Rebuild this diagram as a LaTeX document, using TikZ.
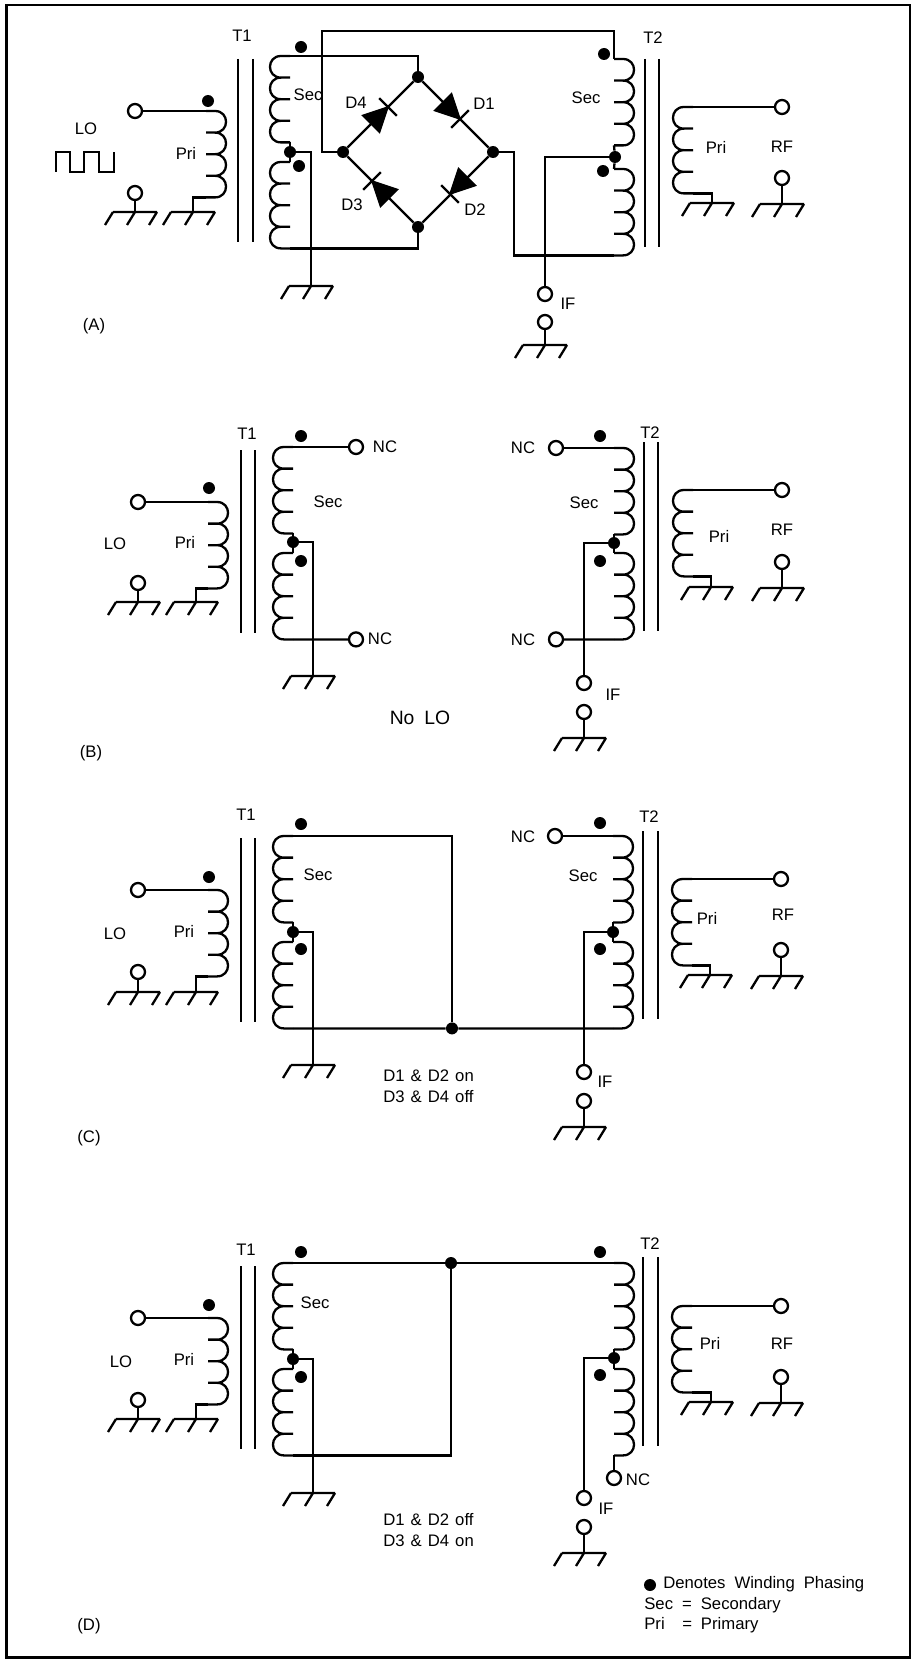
\documentclass[tikz,border=0pt]{standalone}
\usepackage{fontspec}
\setmainfont[WordSpace=1.3]{Liberation Sans}
\usetikzlibrary{positioning,calc}

\tikzset{
	wire/.style={line width=0.046cm},
	term/.style={circle,draw=black,fill=white,line width=0.046cm,inner sep=0,minimum size=0.28cm},
	jdot/.style={circle,fill=black,inner sep=0,minimum size=0.24cm},
	lbl/.style={inner sep=0,font=\fontsize{9.5}{11}\selectfont}
}

% one winding of four turns, xscale=1 bulges right, xscale=-1 bulges left
\newcommand{\winding}[4]{
	\begin{scope}[shift={(#2,#3)},xscale=#4]
		\draw[wire] (0,0) coordinate (#1-a)
			foreach \t in {1,2,3,4} {-- ++(9,0) .. controls +(14.7,0) and +(14.7,0) .. ++(0,21.6) -- ++(-9,0)}
			coordinate (#1-b);
	\end{scope}
}
\newcommand{\grnd}[3]{
	\coordinate (#1) at (#2,#3);
	\begin{scope}[shift={(#2,#3)}]
		\draw[wire] (-22,0) -- (22,0) (-22,0) -- (-30,13) (0,0) -- (-8,13) (22,0) -- (14,13);
	\end{scope}
}
\newcommand{\core}[4]{
	\draw[wire] (#1,#3) -- (#1,#4) (#2,#3) -- (#2,#4);
}
\newcommand{\diode}[3]{
	\begin{scope}[shift={(#1,#2)},rotate=#3]
		\fill[draw=black,line width=0.03cm,line join=miter] (0,0) -- (-24,12) -- (-24,-12) -- cycle;
		\draw[wire] (0,12.5) -- (0,-12.5);
	\end{scope}
}

\begin{document}
\begin{tikzpicture}[x=0.02cm,y=-0.02cm]
	\useasboundingbox (0,0) rectangle (912,1659);
	\draw[line width=0.055cm] (6.5,5) rectangle (910,1657.5);

	% panel A
	\core{238}{253}{59}{242}
	\core{645}{659}{59}{247}
	\winding{aPri}{206}{111}{1}
	\winding{aSec1}{290}{56}{-1}
	\winding{aSec2}{290}{162}{-1}
	\winding{aSec3}{614}{59}{1}
	\winding{aSec4}{614}{169}{1}
	\winding{aPri2}{693}{107}{-1}
	\grnd{aG1}{135}{212}
	\grnd{aG2}{193}{212}
	\grnd{aG3}{311}{286}
	\grnd{aG4}{545}{345}
	\grnd{aG5}{712}{203}
	\grnd{aG6}{782}{204}
	\node[term] (aLO) at (135,111) {};
	\node[term] (aLOg) at (135,193) {};
	\node[term] (aIF) at (545,294) {};
	\node[term] (aIFg) at (545,322) {};
	\node[term] (aRF) at (782,107) {};
	\node[term] (aRFg) at (782,178) {};
	\node[jdot] (aTap1) at (290,152) {};
	\node[jdot] (aTap2) at (615,157) {};
	\node[jdot] (aTop) at (418,77) {};
	\node[jdot] (aLeft) at (343,152) {};
	\node[jdot] (aBottom) at (418,227) {};
	\node[jdot] (aRight) at (493,152) {};
	\node[jdot] (aPh1) at (208,101) {};
	\node[jdot] (aPh2) at (301,47) {};
	\node[jdot] (aPh3) at (299,166) {};
	\node[jdot] (aPh4) at (604,54) {};
	\node[jdot] (aPh5) at (603,171) {};
	\coordinate (aBend1) at (322,31);
	\coordinate (aBend2) at (514,152);
	\draw[wire] (aLO) -- (aPri-a);
	\draw[wire] (aLOg) -- (aG1);
	\draw[wire] (aPri-b) -| (aG2);
	\draw[wire] (aSec1-a) -| (aTop);
	\draw[wire] (aSec2-b) -| (aBottom);
	\draw[wire] (aSec1-b) -- (aTap1) -- (aSec2-a);
	\draw[wire] (aTap1) -| (aG3);
	\draw[wire] (aLeft) -| (aBend1) -| (aSec3-a);
	\draw[wire] (aRight) -- (aBend2) |- (aSec4-b);
	\draw[wire] (aSec3-b) -- (aTap2) -- (aSec4-a);
	\draw[wire] (aTap2) -| (aIF);
	\draw[wire] (aIFg) -- (aG4);
	\draw[wire] (aPri2-a) -- (aRF);
	\draw[wire] (aPri2-b) -| (aG5);
	\draw[wire] (aRFg) -- (aG6);
	\draw[wire] (aLeft) -- (aTop) -- (aRight) -- (aBottom) -- (aLeft);
	\diode{388}{107}{45}
	\diode{460}{119}{-45}
	\diode{450}{194}{-135}
	\diode{372}{181}{135}
	\draw[wire] (56,172) -- (56,152) -- (70,152) -- (70,172) -- (84,172) -- (84,152) -- (99,152) -- (99,172) -- (114,172) -- (114,152);
	\node[lbl] (aT1l) at (242,36) {T1};
	\node[lbl] (aT2l) at (653,38) {T2};
	\node[lbl] (aLOl) at (86,129) {LO};
	\node[lbl] (aPril) at (186,153) {Pri};
	\node[lbl] (aSecl) at (308,95) {Sec};
	\node[lbl] (aSec2l) at (586,98) {Sec};
	\node[lbl] (aPri2l) at (716,147) {Pri};
	\node[lbl] (aRFl) at (782,147) {RF};
	\node[lbl] (aIFl) at (568,304) {IF};
	\node[lbl] (aD1) at (484,104) {D1};
	\node[lbl] (aD2) at (475,210) {D2};
	\node[lbl] (aD3) at (352,205) {D3};
	\node[lbl] (aD4) at (356,103) {D4};
	\node[lbl] (aName) at (94,326) {(A)};

	% panel B
	\core{241}{255}{450}{633}
	\core{644}{658}{442}{631}
	\winding{bPri}{208}{502}{1}
	\winding{bSec1}{293}{447}{-1}
	\winding{bSec2}{293}{553}{-1}
	\winding{bSec3}{614}{448}{1}
	\winding{bSec4}{614}{553}{1}
	\winding{bPri2}{693}{490}{-1}
	\grnd{bG1}{138}{602}
	\grnd{bG2}{196}{602}
	\grnd{bG3}{313}{676}
	\grnd{bG4}{584}{738}
	\grnd{bG5}{711}{587}
	\grnd{bG6}{782}{588}
	\node[term] (bLO) at (138,502) {};
	\node[term] (bLOg) at (138,583) {};
	\node[term] (bNC1) at (356,447) {};
	\node[term] (bNC2) at (356,639.4) {};
	\node[term] (bNC3) at (556,448) {};
	\node[term] (bNC4) at (556,639.4) {};
	\node[term] (bIF) at (584,683) {};
	\node[term] (bIFg) at (584,712) {};
	\node[term] (bRF) at (782,490) {};
	\node[term] (bRFg) at (782,562) {};
	\node[jdot] (bTap1) at (293,542) {};
	\node[jdot] (bTap2) at (614,543) {};
	\node[jdot] (bPh1) at (209,488) {};
	\node[jdot] (bPh2) at (301,436) {};
	\node[jdot] (bPh3) at (301,561) {};
	\node[jdot] (bPh4) at (600,436) {};
	\node[jdot] (bPh5) at (600,561) {};
	\draw[wire] (bLO) -- (bPri-a);
	\draw[wire] (bLOg) -- (bG1);
	\draw[wire] (bPri-b) -| (bG2);
	\draw[wire] (bSec1-a) -- (bNC1);
	\draw[wire] (bSec2-b) -- (bNC2);
	\draw[wire] (bSec1-b) -- (bTap1) -- (bSec2-a);
	\draw[wire] (bTap1) -| (bG3);
	\draw[wire] (bNC3) -- (bSec3-a);
	\draw[wire] (bNC4) -- (bSec4-b);
	\draw[wire] (bSec3-b) -- (bTap2) -- (bSec4-a);
	\draw[wire] (bTap2) -| (bIF);
	\draw[wire] (bIFg) -- (bG4);
	\draw[wire] (bPri2-a) -- (bRF);
	\draw[wire] (bPri2-b) -| (bG5);
	\draw[wire] (bRFg) -- (bG6);
	\node[lbl] (bT1l) at (247,434) {T1};
	\node[lbl] (bT2l) at (650,433) {T2};
	\node[lbl] (bLOl) at (115,544) {LO};
	\node[lbl] (bPril) at (185,542) {Pri};
	\node[lbl] (bSecl) at (328,502) {Sec};
	\node[lbl] (bSec2l) at (584,503) {Sec};
	\node[lbl] (bPri2l) at (719,536) {Pri};
	\node[lbl] (bRFl) at (782,530) {RF};
	\node[lbl] (bIFl) at (613,695) {IF};
	\node[lbl] (bNC1l) at (385,447) {NC};
	\node[lbl] (bNC2l) at (380,639) {NC};
	\node[lbl] (bNC3l) at (523,448) {NC};
	\node[lbl] (bNC4l) at (523,640) {NC};
	\node[inner sep=0,font=\fontsize{11}{13}\selectfont] (bNoLO) at (420,718) {No\hspace{0.2cm}LO};
	\node[lbl] (bName) at (91,753) {(B)};

	% panel C
	\core{241}{255}{838}{1022}
	\core{643}{658}{831}{1019}
	\winding{cPri}{208}{890}{1}
	\winding{cSec1}{293}{836}{-1}
	\winding{cSec2}{293}{942}{-1}
	\winding{cSec3}{613}{836}{1}
	\winding{cSec4}{613}{942}{1}
	\winding{cPri2}{692}{879}{-1}
	\grnd{cG1}{138}{992}
	\grnd{cG2}{196}{992}
	\grnd{cG3}{313}{1065}
	\grnd{cG4}{584}{1127}
	\grnd{cG5}{710}{975}
	\grnd{cG6}{781}{976}
	\node[term] (cLO) at (138,890) {};
	\node[term] (cLOg) at (138,972) {};
	\node[term] (cNC) at (555,836) {};
	\node[term] (cIF) at (584,1072) {};
	\node[term] (cIFg) at (584,1101) {};
	\node[term] (cRF) at (781,879) {};
	\node[term] (cRFg) at (781,950) {};
	\node[jdot] (cTap1) at (293,932) {};
	\node[jdot] (cTap2) at (613,932) {};
	\node[jdot] (cMid) at (452,1028.4) {};
	\node[jdot] (cPh1) at (209,877) {};
	\node[jdot] (cPh2) at (301,824) {};
	\node[jdot] (cPh3) at (301,949) {};
	\node[jdot] (cPh4) at (600,823) {};
	\node[jdot] (cPh5) at (600,949) {};
	\draw[wire] (cLO) -- (cPri-a);
	\draw[wire] (cLOg) -- (cG1);
	\draw[wire] (cPri-b) -| (cG2);
	\draw[wire] (cSec1-a) -| (cMid);
	\draw[wire] (cSec2-b) -- (cMid) -- (cSec4-b);
	\draw[wire] (cSec1-b) -- (cTap1) -- (cSec2-a);
	\draw[wire] (cTap1) -| (cG3);
	\draw[wire] (cNC) -- (cSec3-a);
	\draw[wire] (cSec3-b) -- (cTap2) -- (cSec4-a);
	\draw[wire] (cTap2) -| (cIF);
	\draw[wire] (cIFg) -- (cG4);
	\draw[wire] (cPri2-a) -- (cRF);
	\draw[wire] (cPri2-b) -| (cG5);
	\draw[wire] (cRFg) -- (cG6);
	\node[lbl] (cT1l) at (246,815) {T1};
	\node[lbl] (cT2l) at (649,817) {T2};
	\node[lbl] (cLOl) at (115,934) {LO};
	\node[lbl] (cPril) at (184,931) {Pri};
	\node[lbl] (cSecl) at (318,875) {Sec};
	\node[lbl] (cSec2l) at (583,876) {Sec};
	\node[lbl] (cPri2l) at (707,918) {Pri};
	\node[lbl] (cRFl) at (783,915) {RF};
	\node[lbl] (cIFl) at (605,1082) {IF};
	\node[lbl] (cNCl) at (523,837) {NC};
	\node[lbl,anchor=west] (cOn) at (383,1076) {D1 \& D2 on};
	\node[lbl,anchor=west] (cOff) at (383,1097) {D3 \& D4 off};
	\node[lbl] (cName) at (89,1138) {(C)};

	% panel D
	\core{241}{255}{1266}{1449}
	\core{643}{658}{1257}{1446}
	\winding{dPri}{208}{1318}{1}
	\winding{dSec1}{293}{1263}{-1}
	\winding{dSec2}{293}{1369}{-1}
	\winding{dSec3}{614}{1263}{1}
	\winding{dSec4}{614}{1369}{1}
	\winding{dPri2}{692}{1306}{-1}
	\grnd{dG1}{138}{1419}
	\grnd{dG2}{196}{1419}
	\grnd{dG3}{313}{1493}
	\grnd{dG4}{584}{1553}
	\grnd{dG5}{711}{1402}
	\grnd{dG6}{781}{1403}
	\node[term] (dLO) at (138,1318) {};
	\node[term] (dLOg) at (138,1400) {};
	\node[term] (dNC) at (614,1478) {};
	\node[term] (dIF) at (584,1498) {};
	\node[term] (dIFg) at (584,1527) {};
	\node[term] (dRF) at (781,1306) {};
	\node[term] (dRFg) at (781,1377) {};
	\node[jdot] (dTap1) at (293,1359) {};
	\node[jdot] (dTap2) at (614,1358) {};
	\node[jdot] (dMid) at (451,1263) {};
	\node[jdot] (dPh1) at (209,1305) {};
	\node[jdot] (dPh2) at (301,1252) {};
	\node[jdot] (dPh3) at (301,1377) {};
	\node[jdot] (dPh4) at (600,1252) {};
	\node[jdot] (dPh5) at (600,1375) {};
	\draw[wire] (dLO) -- (dPri-a);
	\draw[wire] (dLOg) -- (dG1);
	\draw[wire] (dPri-b) -| (dG2);
	\draw[wire] (dSec1-a) -- (dMid) -- (dSec3-a);
	\draw[wire] (dSec2-b) -| (dMid);
	\draw[wire] (dSec1-b) -- (dTap1) -- (dSec2-a);
	\draw[wire] (dTap1) -| (dG3);
	\draw[wire] (dSec3-b) -- (dTap2) -- (dSec4-a);
	\draw[wire] (dTap2) -| (dIF);
	\draw[wire] (dSec4-b) -- (dNC);
	\draw[wire] (dIFg) -- (dG4);
	\draw[wire] (dPri2-a) -- (dRF);
	\draw[wire] (dPri2-b) -| (dG5);
	\draw[wire] (dRFg) -- (dG6);
	\node[lbl] (dT1l) at (246,1250) {T1};
	\node[lbl] (dT2l) at (650,1244) {T2};
	\node[lbl] (dLOl) at (121,1362) {LO};
	\node[lbl] (dPril) at (184,1359) {Pri};
	\node[lbl] (dSecl) at (315,1303) {Sec};
	\node[lbl] (dPri2l) at (710,1343) {Pri};
	\node[lbl] (dRFl) at (782,1344) {RF};
	\node[lbl] (dIFl) at (606,1509) {IF};
	\node[lbl] (dNCl) at (638,1480) {NC};
	\node[lbl,anchor=west] (dOff) at (383,1520) {D1 \& D2 off};
	\node[lbl,anchor=west] (dOn) at (383,1541) {D3 \& D4 on};
	\node[lbl] (dName) at (89,1626) {(D)};

	% legend
	\node[jdot] (keyDot) at (650,1585) {};
	\node[lbl,anchor=west] (keyPh) at (663,1584) {Denotes\hspace{0.18cm}Winding\hspace{0.18cm}Phasing};
	\node[lbl,anchor=west] (keySec) at (644,1605) {Sec\hspace{0.18cm}=\hspace{0.18cm}Secondary};
	\node[lbl,anchor=west] (keyPri) at (644,1625) {Pri\hspace{0.35cm}=\hspace{0.18cm}Primary};
\end{tikzpicture}
\end{document}
